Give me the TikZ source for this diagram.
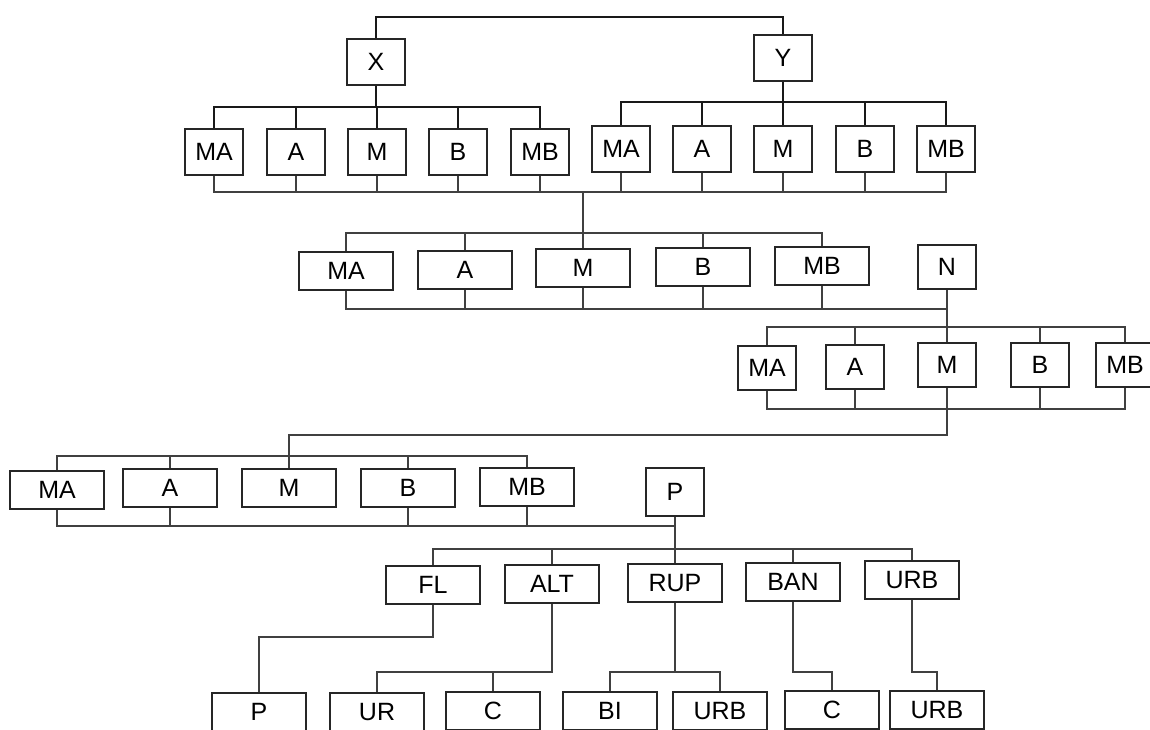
\documentclass[tikz,border=0pt]{standalone}
\usepackage{fontspec}
\setmainfont{Liberation Sans}

\begin{document}
\begin{tikzpicture}[x=0.5pt, y=-0.5pt,
  bx/.style={rectangle, draw=black!85, line width=0.9pt, fill=white, inner sep=0pt,
             font=\fontsize{12.5}{12.5}\selectfont},
  sq/.style={bx, minimum width=29pt, minimum height=23pt},
  wd/.style={bx, minimum width=47pt, minimum height=19pt},
  tk/.style={line width=1.2pt, black!90},
  ln/.style={line width=0.6pt, black!75}
]
\useasboundingbox (0,0) rectangle (1150,729);

% levels of the buses
\coordinate (t0) at (0,17);
\coordinate (b1) at (0,107);
\coordinate (b2) at (0,102);
\coordinate (b3) at (0,192);
\coordinate (b4) at (0,233);
\coordinate (b5) at (0,309);
\coordinate (b6) at (0,327);
\coordinate (b7) at (0,409);
\coordinate (b8) at (0,435);
\coordinate (b9) at (0,456);
\coordinate (b10) at (0,526);
\coordinate (b11) at (0,549);
\coordinate (e1) at (0,637);
\coordinate (e2) at (0,672);

\node[sq] (X) at (376,62) {X};
\node[sq] (Y) at (783,58) {Y};

% row 1
\node[sq] (xMA) at (214,152) {MA};
\node[sq] (xA)  at (296,152) {A};
\node[sq] (xM)  at (377,152) {M};
\node[sq] (xB)  at (458,152) {B};
\node[sq] (xMB) at (540,152) {MB};
\node[sq] (yMA) at (621,149) {MA};
\node[sq] (yA)  at (702,149) {A};
\node[sq] (yM)  at (783,149) {M};
\node[sq] (yB)  at (865,149) {B};
\node[sq] (yMB) at (946,149) {MB};

% row 2
\node[wd] (rMA) at (346,271) {MA};
\node[wd] (rA)  at (465,270) {A};
\node[wd] (rM)  at (583,268) {M};
\node[wd] (rB)  at (703,267) {B};
\node[wd] (rMB) at (822,266) {MB};
\node[sq, minimum height=22pt] (N) at (947,267) {N};

% children of N
\node[sq, minimum height=22pt] (nMA) at (767,368) {MA};
\node[sq, minimum height=22pt] (nA)  at (855,367) {A};
\node[sq, minimum height=22pt] (nM)  at (947,365) {M};
\node[sq, minimum height=22pt] (nB)  at (1040,365) {B};
\node[sq, minimum height=22pt] (nMB) at (1125,365) {MB};

% row 3
\node[wd] (lMA) at (57,490) {MA};
\node[wd] (lA)  at (170,488) {A};
\node[wd] (lM)  at (289,488) {M};
\node[wd] (lB)  at (408,488) {B};
\node[wd] (lMB) at (527,487) {MB};
\node[sq, minimum height=24pt] (P) at (675,492) {P};

% children of P
\node[wd] (FL)  at (433,585) {FL};
\node[wd] (ALT) at (552,584) {ALT};
\node[wd] (RUP) at (675,583) {RUP};
\node[wd] (BAN) at (793,582) {BAN};
\node[wd] (URB) at (912,580) {URB};

% bottom row
\node[wd] (bP)    at (259,712) {P};
\node[wd] (bUR)   at (377,712) {UR};
\node[wd] (bC)    at (493,711) {C};
\node[wd] (bBI)   at (610,711) {BI};
\node[wd] (bURB)  at (720,711) {URB};
\node[wd] (bC2)   at (832,710) {C};
\node[wd] (bURB2) at (937,710) {URB};

% X and Y
\draw[tk] (X.north) -- (X.north |- t0) -| (Y.north);
\draw[tk] (X.south) -- (X.south |- b1);
\draw[tk] (xMA.north) |- (xMB.north |- b1) -- (xMB.north);
\draw[tk] (xA.north) -- (xA.north |- b1) (xM.north) -- (xM.north |- b1)
  (xB.north) -- (xB.north |- b1);
\draw[tk] (Y.south) -- (Y.south |- b2);
\draw[tk] (yMA.north) |- (yMB.north |- b2) -- (yMB.north);
\draw[tk] (yA.north) -- (yA.north |- b2) (yM.north) -- (yM.north |- b2)
  (yB.north) -- (yB.north |- b2);

% row 1 to row 2
\draw[ln] (xMA.south) |- (yMB.south |- b3) -- (yMB.south);
\draw[ln] (xA.south) -- (xA.south |- b3) (xM.south) -- (xM.south |- b3)
  (xB.south) -- (xB.south |- b3) (xMB.south) -- (xMB.south |- b3)
  (yMA.south) -- (yMA.south |- b3) (yA.south) -- (yA.south |- b3)
  (yM.south) -- (yM.south |- b3) (yB.south) -- (yB.south |- b3);
\draw[ln] (rM.north) -- (rM.north |- b3);
\draw[ln] (rMA.north) |- (rMB.north |- b4) -- (rMB.north);
\draw[ln] (rA.north) -- (rA.north |- b4) (rB.north) -- (rB.north |- b4);

% row 2 to N
\draw[ln] (rMA.south) |- (N.south |- b5);
\draw[ln] (rA.south) -- (rA.south |- b5) (rM.south) -- (rM.south |- b5)
  (rB.south) -- (rB.south |- b5) (rMB.south) -- (rMB.south |- b5);
\draw[ln] (N.south) -- (nM.north);
\draw[ln] (nMA.north) |- (nMB.north |- b6) -- (nMB.north);
\draw[ln] (nA.north) -- (nA.north |- b6) (nB.north) -- (nB.north |- b6);

% N to row 3
\draw[ln] (nMA.south) |- (nMB.south |- b7) -- (nMB.south);
\draw[ln] (nA.south) -- (nA.south |- b7) (nB.south) -- (nB.south |- b7);
\draw[ln] (nM.south) |- (lM.north |- b8) -- (lM.north);
\draw[ln] (lMA.north) |- (lMB.north |- b9) -- (lMB.north);
\draw[ln] (lA.north) -- (lA.north |- b9) (lB.north) -- (lB.north |- b9);

% row 3 to P
\draw[ln] (lMA.south) |- (P.south |- b10);
\draw[ln] (lA.south) -- (lA.south |- b10) (lB.south) -- (lB.south |- b10)
  (lMB.south) -- (lMB.south |- b10);
\draw[ln] (P.south) -- (RUP.north);
\draw[ln] (FL.north) |- (URB.north |- b11) -- (URB.north);
\draw[ln] (ALT.north) -- (ALT.north |- b11) (BAN.north) -- (BAN.north |- b11);

% bottom
\draw[ln] (FL.south) -- (FL.south |- e1) -| (bP.north);
\draw[ln] (ALT.south) |- (bUR.north |- e2) -- (bUR.north);
\draw[ln] (bC.north) -- (bC.north |- e2);
\draw[ln] (RUP.south) -- (RUP.south |- e2);
\draw[ln] (bBI.north) |- (bURB.north |- e2) -- (bURB.north);
\draw[ln] (BAN.south) -- (BAN.south |- e2) -| (bC2.north);
\draw[ln] (URB.south) -- (URB.south |- e2) -| (bURB2.north);
\end{tikzpicture}
\end{document}
